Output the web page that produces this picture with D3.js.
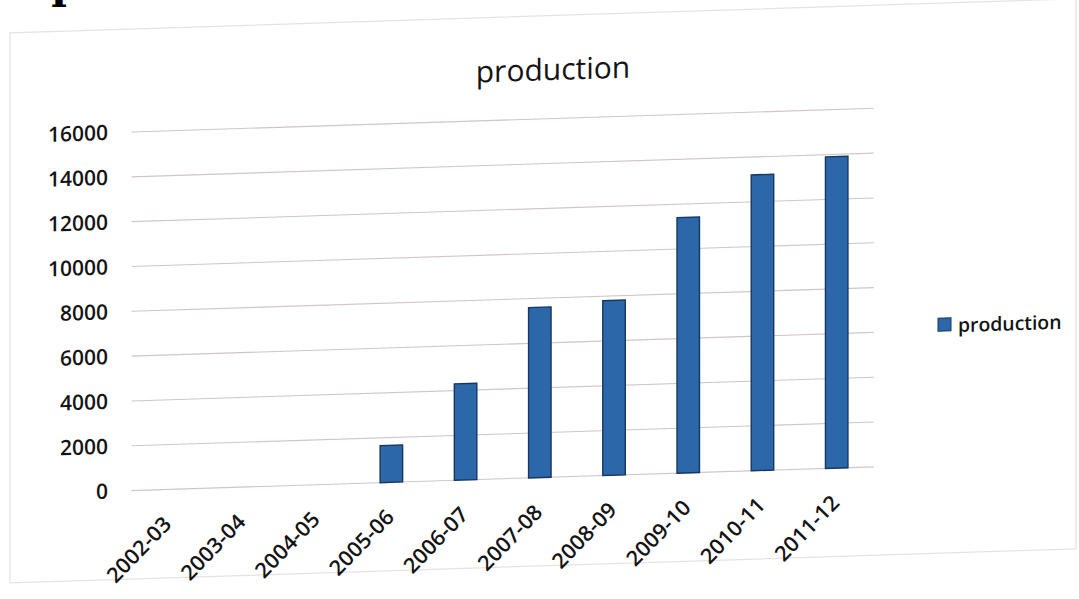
<!DOCTYPE html>
<html>
<head>
<meta charset="utf-8">
<script src="https://cdn.jsdelivr.net/npm/d3@7/dist/d3.min.js"></script>
<style>
  html, body { margin: 0; padding: 0; background: #ffffff; }
  svg { display: block; }
  text { font-family: "Open Sans", "Noto Sans", sans-serif; fill: #141414; }
</style>
</head>
<body>
<svg id="chart" width="1079" height="599"></svg>
<script>
// ---- data ----
const categories = ["2002-03","2003-04","2004-05","2005-06","2006-07","2007-08","2008-09","2009-10","2010-11","2011-12"];
const production = [0, 0, 0, 1650, 4300, 7600, 7800, 11400, 13200, 13900];
const yTicks = [0, 2000, 4000, 6000, 8000, 10000, 12000, 14000, 16000];
const seriesName = "production";
const chartTitle = "production";

// ---- layout ----
const plotLeft = 131.6, plotRight = 873.8;
const yBottom = 490.6, yTop = 132;
const skewAngle = -1.83;   // photographed page is slightly tilted

const svg = d3.select("#chart");

// fragment of page heading cut by the photo edge
svg.append("text")
  .attr("x", -34).attr("y", -2)
  .style("font-family", "'DejaVu Serif', serif")
  .style("font-weight", "bold")
  .style("font-size", "42px")
  .style("fill", "#000")
  .text("Graph:");

const g = svg.append("g")
  .attr("transform", `translate(${plotLeft},0) skewY(${skewAngle}) translate(${-plotLeft},0)`);

// faint chart frame
g.append("rect")
  .attr("x", 10).attr("y", 29).attr("width", 1066).attr("height", 550)
  .attr("fill", "none").attr("stroke", "#e6e2e2").attr("stroke-width", 1.2);

const x = d3.scaleBand().domain(categories).range([plotLeft, plotRight]).padding(0);
const y = d3.scaleLinear().domain([0, 16000]).range([yBottom, yTop]);
const barW = x.bandwidth() * 0.303;

// gridlines
g.append("g").selectAll("line").data(yTicks).join("line")
  .attr("x1", plotLeft).attr("x2", plotRight)
  .attr("y1", d => y(d)).attr("y2", d => y(d))
  .attr("stroke", "#cfc6c6").attr("stroke-width", 1.1);

// y axis labels
const yAxis = d3.axisLeft(y).tickValues(yTicks).tickSize(0).tickPadding(0).tickFormat(d3.format("d"));
const ya = g.append("g").attr("transform", "translate(108,0)").call(yAxis);
ya.select(".domain").remove();
ya.selectAll("text")
  .style("font-family", "'Open Sans', sans-serif")
  .style("font-size", "21px")
  .style("font-weight", "600")
  .style("fill", "#141414");

// bars
g.append("g").selectAll("rect").data(categories).join("rect")
  .attr("x", d => x(d) + x.bandwidth() / 2 - barW / 2)
  .attr("width", barW)
  .attr("y", (d, i) => y(production[i]))
  .attr("height", (d, i) => y(0) - y(production[i]))
  .attr("fill", "#2c67aa")
  .attr("stroke", "#18375f")
  .attr("stroke-width", 1.4)
  .style("display", (d, i) => production[i] > 0 ? null : "none");

// x axis labels
const xAxis = d3.axisBottom(x).tickSize(0).tickPadding(0);
const xa = g.append("g").attr("transform", `translate(0,${y(0)})`).call(xAxis);
xa.select(".domain").remove();
xa.selectAll("text")
  .attr("text-anchor", "end")
  .attr("dy", null)
  .attr("y", 0)
  .attr("transform", "translate(4,36) rotate(-45)")
  .style("font-family", "'Open Sans', sans-serif")
  .style("font-size", "21.5px")
  .style("font-weight", "600")
  .style("fill", "#141414");

// title
g.append("text")
  .attr("x", 553).attr("y", 93.5)
  .attr("text-anchor", "middle")
  .style("font-size", "30px")
  .style("fill", "#141414")
  .text(chartTitle);

// legend
const lg = g.append("g");
lg.append("rect")
  .attr("x", 938).attr("y", 344).attr("width", 13).attr("height", 13)
  .attr("fill", "#2c67aa").attr("stroke", "#18375f").attr("stroke-width", 1);
lg.append("text")
  .attr("x", 958).attr("y", 358.5)
  .style("font-size", "19.4px")
  .style("font-weight", "600")
  .text(seriesName);
</script>
</body>
</html>
